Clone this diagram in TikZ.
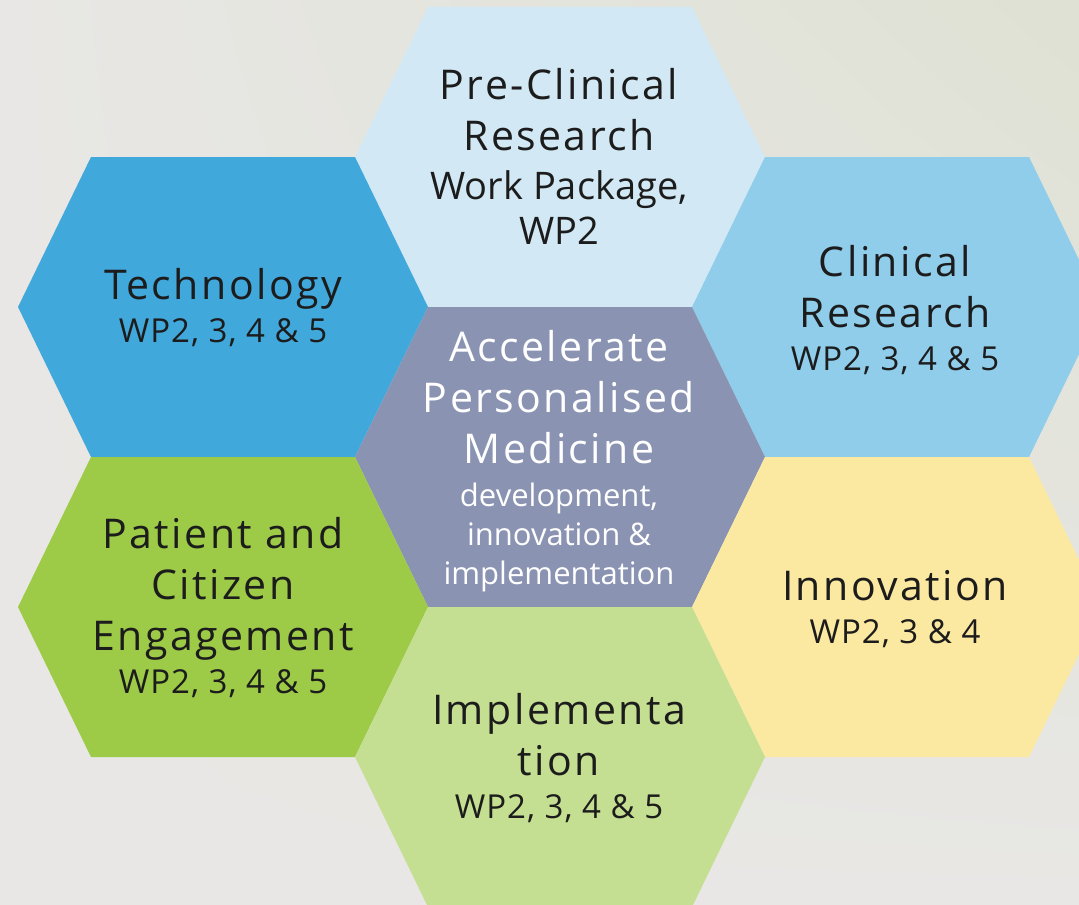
\documentclass[tikz,border=0pt]{standalone}
\usepackage{fontspec}
\setmainfont{Open Sans}
\newfontfamily\titlefam[LetterSpace=6]{Open Sans}
\newfontfamily\subfam[LetterSpace=3]{Open Sans}
\usetikzlibrary{shadings}
\definecolor{bgA}{HTML}{E8E7E5}
\definecolor{bgB}{HTML}{DFE1D4}
\definecolor{cPre}{HTML}{D2E9F5}
\definecolor{cTech}{HTML}{41A8DC}
\definecolor{cClin}{HTML}{8FCDEB}
\definecolor{cCen}{HTML}{8A93B2}
\definecolor{cPat}{HTML}{9DCB47}
\definecolor{cInn}{HTML}{FCE9A1}
\definecolor{cImp}{HTML}{C5DF92}
\definecolor{txt}{HTML}{1C1C1C}
\newcommand\hexcell[3]{\fill[#3] (#1-205,#2) -- (#1-132,#2-150) -- (#1+132,#2-150) -- (#1+205,#2) -- (#1+132,#2+150) -- (#1-132,#2+150) -- cycle;}
\newcommand\ttlf{\titlefam\fontsize{20.5}{25.5}\selectfont}
\newcommand\subf{\fontsize{15.5}{19.5}\selectfont}
\newcommand\wpf{\subfam\fontsize{16.5}{19.5}\selectfont}
\newcommand\pref{\fontsize{19}{22}\selectfont}
\tikzset{
  hextext/.style={align=center, text=txt, inner sep=0pt, font=\fontsize{20.5}{25.5}\selectfont},
}
\begin{document}
\begin{tikzpicture}[x=0.5pt,y=-0.5pt]
\useasboundingbox (0,0) rectangle (1079,904);
\shade[upper left=bgA, upper right=bgB, lower left=bgA, lower right=bgA] (0,0) rectangle (1079,904);
\hexcell{560}{157}{cPre}
\hexcell{223}{307}{cTech}
\hexcell{897}{307}{cClin}
\hexcell{560}{457}{cCen}
\hexcell{223}{607}{cPat}
\hexcell{897}{607}{cInn}
\hexcell{560}{757}{cImp}
\node[hextext] (pre) at (559,156) {\ttlf Pre-Clinical\\\ttlf Research\\[-1pt]\pref Work Package,\\[-3pt]\pref WP2};
\node[hextext] (tech) at (223,308) {\ttlf Technology\\[-4pt]\wpf WP2, 3, 4 \& 5};
\node[hextext] (clin) at (895,310) {\ttlf Clinical\\\ttlf Research\\[-4pt]\wpf WP2, 3, 4 \& 5};
\node[hextext, text=white] (cen) at (559,461) {\ttlf Accelerate\\\ttlf Personalised\\\ttlf Medicine\\[-4pt]\subf development,\\[-6pt]\subf innovation \&\\[-6pt]\subf implementation};
\node[hextext] (pat) at (223,608) {\ttlf Patient and\\\ttlf Citizen\\\ttlf Engagement\\[-4pt]\wpf WP2, 3, 4 \& 5};
\node[hextext] (inn) at (895,609) {\ttlf Innovation\\[-4pt]\wpf WP2, 3 \& 4};
\node[hextext] (imp) at (559,758) {\ttlf Implementa\\\ttlf tion\\[-4pt]\wpf WP2, 3, 4 \& 5};
\end{tikzpicture}
\end{document}
